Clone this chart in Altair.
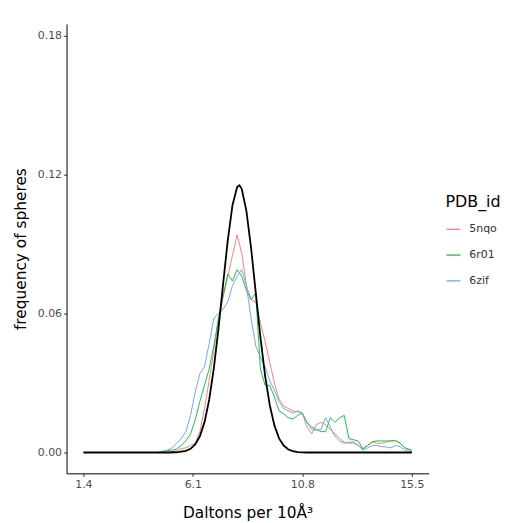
import altair as alt
import pandas as pd

# ---- data ----
pdb_ids = ["5nqo", "6r01", "6zif"]
line_colors = ["#F8766D", "#00BA38", "#619CFF"]

x_bins = [4.6, 4.8, 5.0, 5.2, 5.4, 5.6, 5.8, 6.0, 6.2, 6.4,
          6.6, 6.8, 7.0, 7.2, 7.4, 7.6, 7.8, 8.0, 8.2, 8.4,
          8.6, 8.8, 9.0, 9.2, 9.4, 9.6, 9.8, 10.0, 10.2, 10.4,
          10.6, 10.8, 11.0, 11.2, 11.4, 11.6, 11.8, 12.0, 12.2, 12.4,
          12.6, 12.8, 13.0, 13.2, 13.4, 13.6, 13.8, 14.0, 14.2, 14.4,
          14.6, 14.8, 15.0, 15.2, 15.5]

freq_5nqo = [0.0, 0.0, 0.0, 0.0003, 0.0008, 0.0017, 0.002, 0.003, 0.004, 0.009,
             0.019, 0.031, 0.044, 0.057, 0.067, 0.076, 0.085, 0.094, 0.086, 0.072,
             0.066, 0.065, 0.056, 0.048, 0.039, 0.030, 0.023, 0.020, 0.019, 0.018,
             0.0175, 0.017, 0.011, 0.008, 0.012, 0.013, 0.012, 0.010, 0.008, 0.006,
             0.0045, 0.004, 0.004, 0.003, 0.0017, 0.003, 0.0046, 0.004, 0.004, 0.0045,
             0.005, 0.0053, 0.004, 0.002, 0.0005]

freq_6r01 = [0.0, 0.0005, 0.0008, 0.001, 0.0015, 0.003, 0.005, 0.008, 0.014, 0.022,
             0.029, 0.036, 0.046, 0.058, 0.068, 0.077, 0.074, 0.079, 0.076, 0.070,
             0.066, 0.069, 0.036, 0.029, 0.029, 0.024, 0.018, 0.0167, 0.015, 0.0145,
             0.016, 0.017, 0.013, 0.011, 0.010, 0.009, 0.009, 0.015, 0.013, 0.015,
             0.016, 0.006, 0.0055, 0.005, 0.0015, 0.003, 0.0046, 0.005, 0.005, 0.005,
             0.005, 0.005, 0.004, 0.002, 0.001]

freq_6zif = [0.0, 0.0003, 0.001, 0.002, 0.004, 0.006, 0.009, 0.016, 0.026, 0.034,
             0.037, 0.047, 0.058, 0.060, 0.062, 0.065, 0.072, 0.076, 0.079, 0.072,
             0.058, 0.046, 0.041, 0.037, 0.031, 0.027, 0.022, 0.019, 0.018, 0.017,
             0.018, 0.017, 0.013, 0.010, 0.0095, 0.010, 0.015, 0.011, 0.007, 0.005,
             0.004, 0.0045, 0.0046, 0.003, 0.001, 0.002, 0.003, 0.003, 0.0025, 0.0024,
             0.002, 0.003, 0.0025, 0.001, 0.0]

normal_x = [1.4, 5.0, 5.4, 5.8, 6.0, 6.2, 6.4, 6.6, 6.8, 7.0, 7.2, 7.4, 7.6, 7.8,
            8.0, 8.1, 8.2, 8.4, 8.6, 8.8, 9.0, 9.2, 9.4, 9.6, 9.8, 10.0, 10.2,
            10.4, 10.6, 11.0, 15.5]
normal_y = [0.0, 0.0, 0.0001, 0.0007, 0.0016, 0.0035, 0.0070, 0.0131, 0.0227, 0.0363,
            0.0535, 0.0729, 0.0917, 0.1067, 0.1146, 0.1153, 0.1137, 0.1042, 0.0882,
            0.0690, 0.0498, 0.0332, 0.0205, 0.0117, 0.0061, 0.0030, 0.0013, 0.0006,
            0.0002, 0.0, 0.0]

x_ticks = [1.4, 6.1, 10.8, 15.5]
y_ticks = [0.0, 0.06, 0.12, 0.18]

rows = []
for pid, vals in zip(pdb_ids, [freq_5nqo, freq_6r01, freq_6zif]):
    for xv, yv in zip(x_bins, vals):
        rows.append({"PDB_id": pid, "x": xv, "y": yv})
obs = pd.DataFrame(rows)
fit = pd.DataFrame({"x": normal_x, "y": normal_y})

FONT = "DejaVu Sans"
xscale = alt.Scale(domain=[0.677, 16.223], nice=False, zero=False)
yscale = alt.Scale(domain=[-0.009, 0.185], nice=False, zero=False)

x_enc = alt.X("x:Q", scale=xscale,
              axis=alt.Axis(values=x_ticks, format=".1f", title="Daltons per 10Å³",
                            titlePadding=17))
y_enc = alt.Y("y:Q", scale=yscale,
              axis=alt.Axis(values=y_ticks, format=".2f", title="frequency of spheres",
                            titlePadding=9))

lines = alt.Chart(obs).mark_line(strokeWidth=0.9).encode(
    x=x_enc,
    y=y_enc,
    color=alt.Color("PDB_id:N",
                    scale=alt.Scale(domain=pdb_ids, range=line_colors),
                    legend=alt.Legend(orient="none", legendX=382, legendY=172,
                                      symbolType="stroke", symbolSize=196,
                                      symbolStrokeWidth=1.2, rowPadding=13,
                                      titleFontSize=16, titleFontWeight="normal",
                                      titleFont=FONT, titleColor="black",
                                      labelFont=FONT, labelFontSize=11,
                                      labelColor="#333333", titlePadding=11,
                                      labelOffset=8)),
)

black = alt.Chart(fit).mark_line(color="black", strokeWidth=1.8).encode(
    x=alt.X("x:Q", scale=xscale),
    y=alt.Y("y:Q", scale=yscale),
)

chart = alt.layer(lines, black).properties(
    width=365, height=453,
    autosize=alt.AutoSizeParams(type="none"),
    padding={"left": 59, "top": 14, "right": 85, "bottom": 46},
).configure_view(stroke=None).configure_axis(
    grid=False, domainColor="black", domainWidth=1,
    tickColor="#333333", tickSize=3, tickWidth=1,
    labelColor="#4D4D4D", labelFont=FONT, labelFontSize=11, labelPadding=2,
    titleFont=FONT, titleFontSize=15.5, titleFontWeight="normal", titleColor="black",
)

chart.save("out.html", embed_options={"renderer": "svg", "actions": False})
